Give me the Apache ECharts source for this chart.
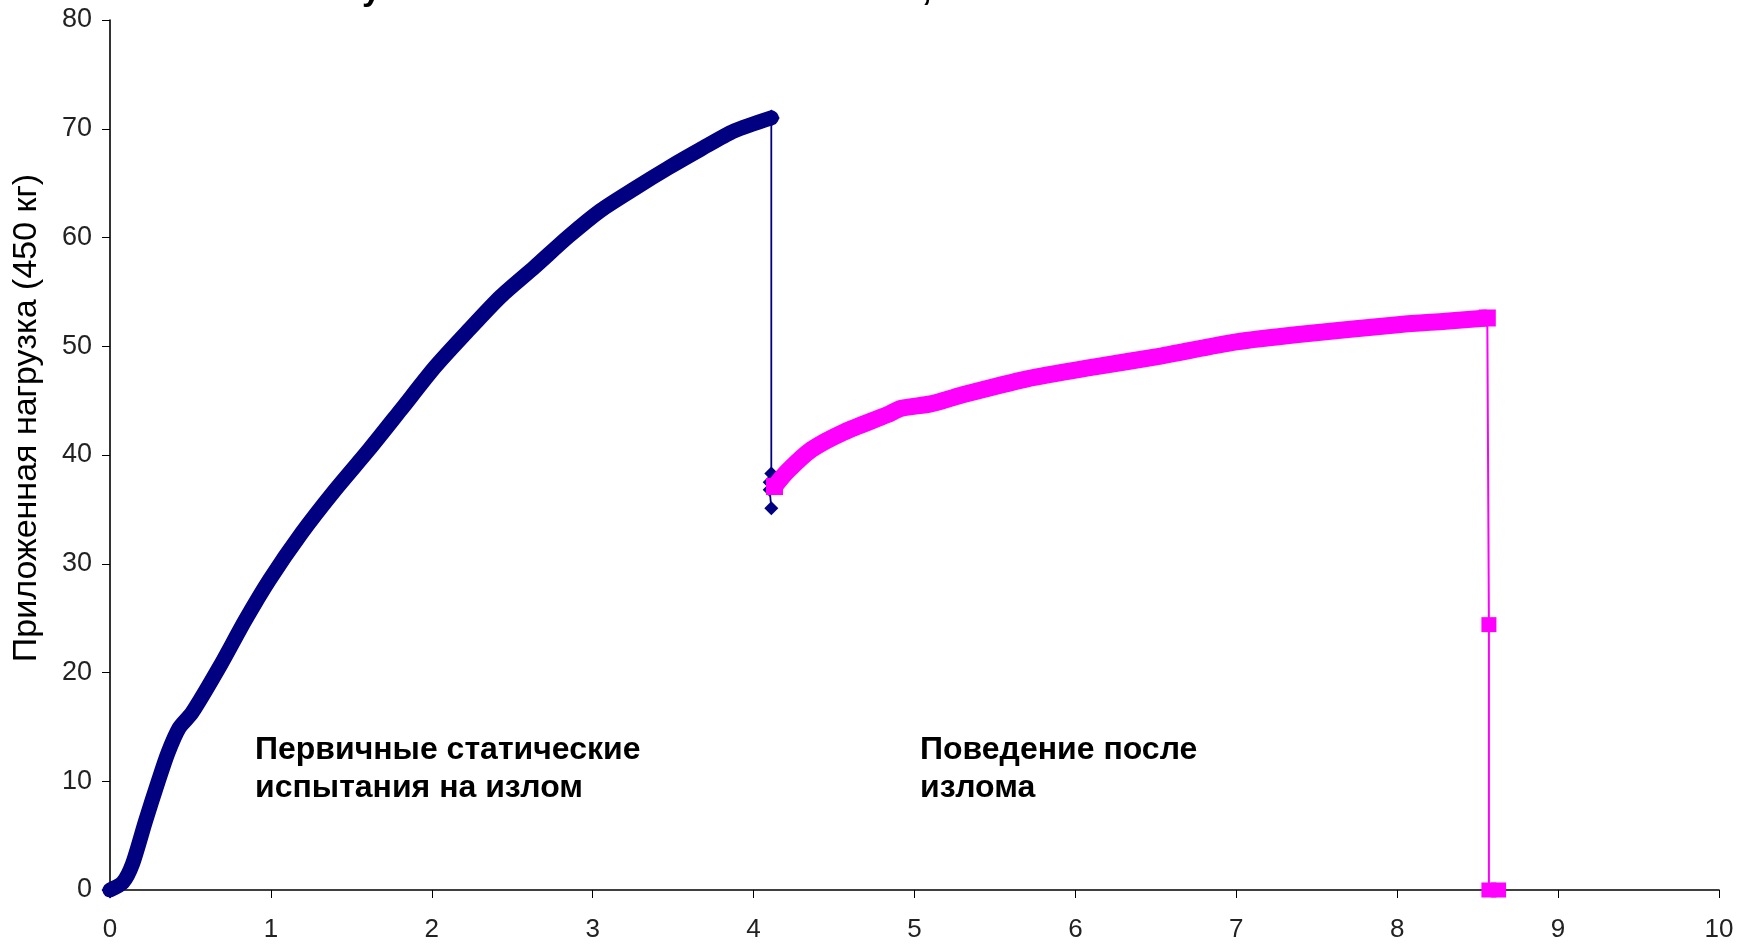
<!DOCTYPE html>
<html>
<head>
<meta charset="utf-8">
<script src="https://cdn.jsdelivr.net/npm/echarts@6/dist/echarts.min.js"></script>
<style>
html,body{margin:0;padding:0;background:#fff;}
#c{width:1744px;height:944px;}
</style>
</head>
<body>
<div id="c"></div>
<script>
// ---- data ----
const xTickLabels = ['0','1','2','3','4','5','6','7','8','9','10'];
const yTickLabels = ['0','10','20','30','40','50','60','70','80'];

// primary static break test (blue, diamonds)
const blueCurve = [
  [0,0],[0.08,0.7],[0.14,2.4],[0.22,6.3],[0.30,10.0],[0.36,12.6],[0.43,14.9],
  [0.51,16.3],[0.68,20.5],[0.84,24.8],[0.99,28.5],[1.19,32.8],[1.40,36.8],
  [1.61,40.5],[1.81,44.2],[2.02,48.1],[2.23,51.5],[2.43,54.6],[2.64,57.3],
  [2.85,60.1],[3.05,62.5],[3.26,64.5],[3.47,66.4],[3.67,68.1],[3.88,69.8],[4.11,71.0]
];
const blueDrop = [[4.11,71.0],[4.11,38.3],[4.10,37.5],[4.10,36.8],[4.11,35.1]];

// post-break behaviour (magenta, squares)
const magentaCurve = [
  [4.13,37.1],[4.21,38.5],[4.36,40.5],[4.56,42.1],[4.83,43.7],[4.92,44.3],
  [5.10,44.7],[5.29,45.5],[5.70,47.0],[6.12,48.1],[6.53,49.1],[7.00,50.4],
  [7.40,51.1],[8.02,52.0],[8.30,52.3],[8.56,52.6]
];
const magentaDrop = [[8.56,52.6],[8.57,24.4],[8.57,0],[8.63,0]];

const yAxisTitle = 'Приложенная нагрузка (450 кг)';
const noteLeft = 'Первичные статические\nиспытания на излом';
const noteRight = 'Поведение после\nизлома';

// ---- chart ----
const FONT = '"Liberation Sans",Arial,sans-serif';
function endsOnly(size, n){
  return function(v, p){ return (p.dataIndex === 0 || p.dataIndex === n - 1) ? size : 0; };
}
const chart = echarts.init(document.getElementById('c'), null, {renderer:'canvas'});
chart.setOption({
  animation:false,
  backgroundColor:'#ffffff',
  grid:{left:110, right:25, top:20, bottom:54},
  xAxis:{
    type:'value', min:0, max:10, interval:1,
    axisLine:{show:true, onZero:false, lineStyle:{color:'#000', width:1.6}},
    axisTick:{show:true, length:8, lineStyle:{color:'#000', width:1}},
    splitLine:{show:false},
    axisLabel:{
      margin:27, color:'#222', fontSize:26, fontFamily:FONT,
      formatter:function(v){ return xTickLabels[Math.round(v)] || ''; }
    }
  },
  yAxis:{
    type:'value', min:0, max:80, interval:10,
    axisLine:{show:true, onZero:false, lineStyle:{color:'#000', width:1.6}},
    axisTick:{show:true, length:8, lineStyle:{color:'#000', width:1}},
    splitLine:{show:false},
    axisLabel:{
      margin:18, color:'#222', fontSize:27, fontFamily:FONT,
      formatter:function(v){ return yTickLabels[Math.round(v/10)] || ''; }
    }
  },
  series:[
    {
      type:'line', data:blueCurve, symbol:'diamond', symbolSize:endsOnly(17, blueCurve.length),
      showSymbol:true, smooth:0.25,
      lineStyle:{color:'#000080', width:15, cap:'round', join:'round'},
      itemStyle:{color:'#000080'}, z:2
    },
    {
      type:'line', data:blueDrop, symbol:'diamond', symbolSize:14, showSymbol:true,
      lineStyle:{color:'#000080', width:1.8},
      itemStyle:{color:'#000080'}, z:2
    },
    {
      type:'line', data:magentaCurve, symbol:'rect', symbolSize:endsOnly(17, magentaCurve.length),
      showSymbol:true, smooth:0.25,
      lineStyle:{color:'#FF00FF', width:17, cap:'butt', join:'round'},
      itemStyle:{color:'#FF00FF'}, z:3
    },
    {
      type:'line', data:magentaDrop, symbol:'rect', symbolSize:15, showSymbol:true,
      lineStyle:{color:'#FF00FF', width:2},
      itemStyle:{color:'#FF00FF'}, z:3
    }
  ],
  graphic:[
    {
      type:'text', x:27, y:418, rotation:Math.PI/2,
      style:{text:yAxisTitle, fill:'#000', font:'34px ' + FONT,
             textAlign:'center', textVerticalAlign:'middle'}
    },
    {
      type:'text', x:255, y:731,
      style:{text:noteLeft, fill:'#000', font:'bold 32px ' + FONT,
             lineHeight:38, textAlign:'left', textVerticalAlign:'top'}
    },
    {
      type:'text', x:920, y:731,
      style:{text:noteRight, fill:'#000', font:'bold 32px ' + FONT,
             lineHeight:38, textAlign:'left', textVerticalAlign:'top'}
    },
    {
      type:'text', x:362, y:-26,
      style:{text:'у', fill:'#000', font:'bold 34px ' + FONT, textAlign:'left', textVerticalAlign:'top'}
    },
    {
      type:'text', x:922, y:-26,
      style:{text:',', fill:'#000', font:'bold 34px ' + FONT, textAlign:'left', textVerticalAlign:'top'}
    }
  ]
});
</script>
</body>
</html>
